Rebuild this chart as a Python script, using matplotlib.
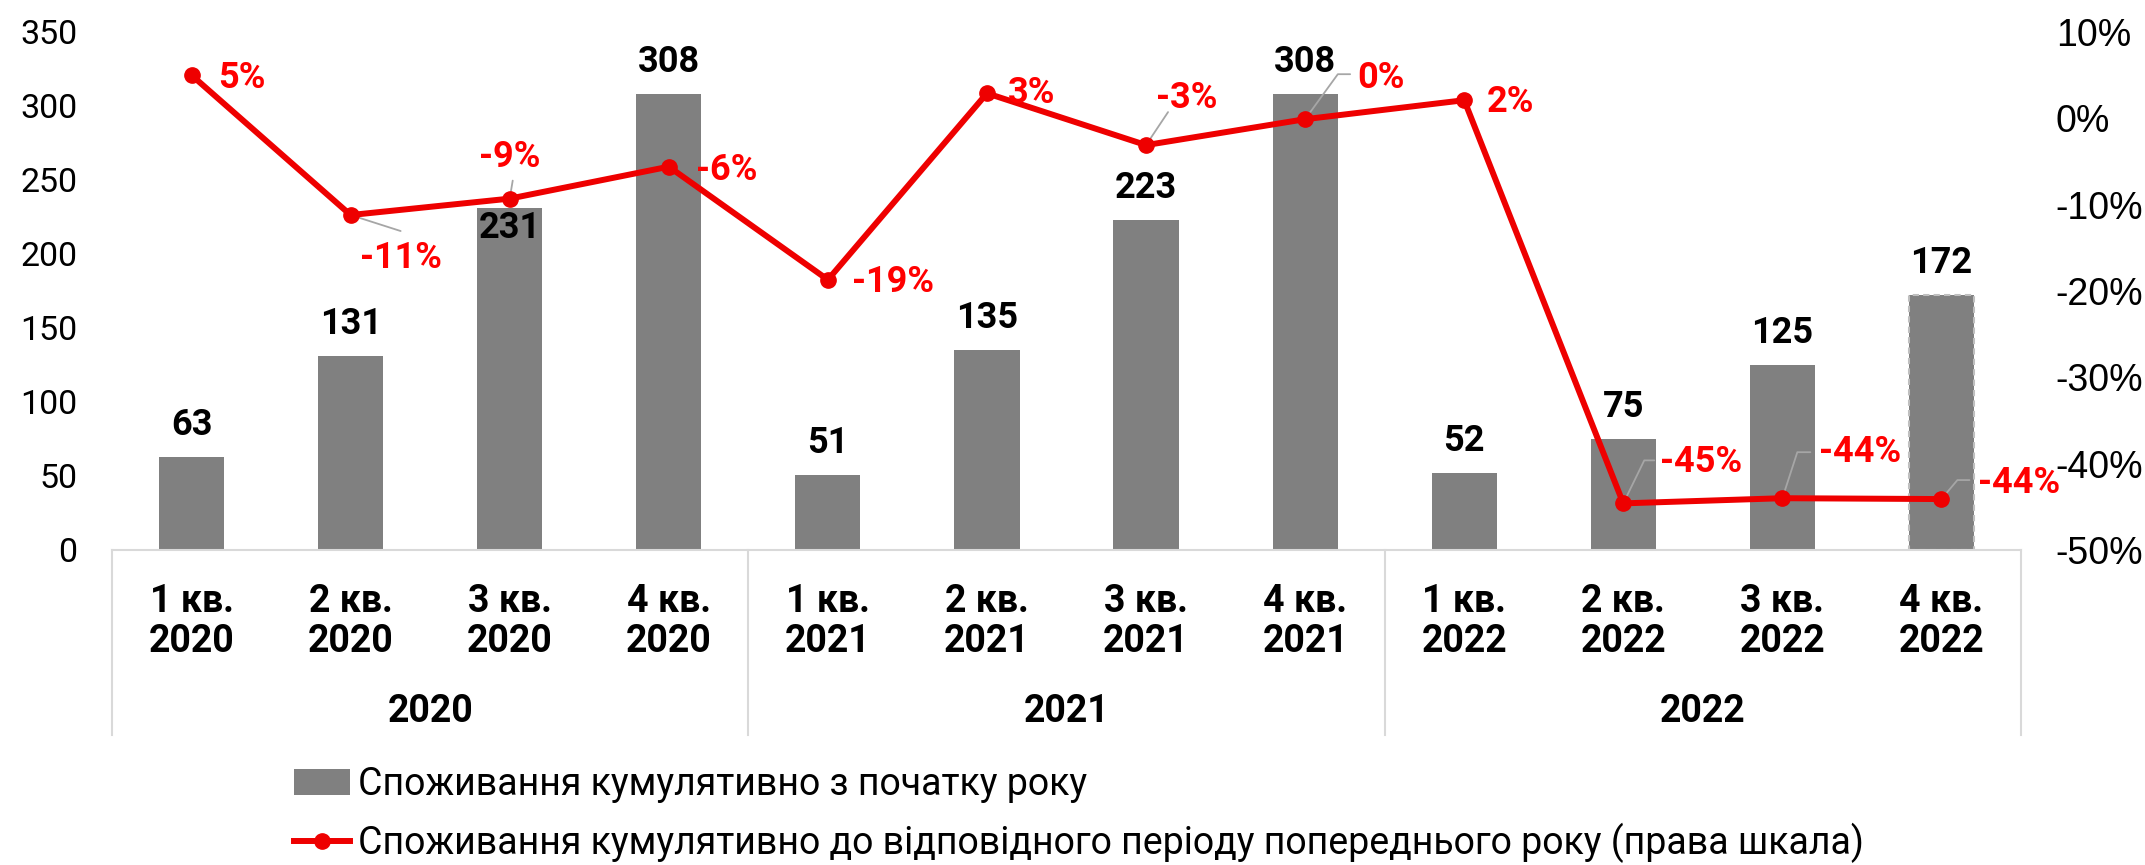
import matplotlib
matplotlib.use("Agg")
import matplotlib.pyplot as plt
from matplotlib.lines import Line2D
from matplotlib.patches import Patch
import matplotlib.transforms as mtransforms
import matplotlib.ticker as mticker

# ---------------- data ----------------
quarters = ["1 кв.", "2 кв.", "3 кв.", "4 кв."] * 3
years_q = ["2020"] * 4 + ["2021"] * 4 + ["2022"] * 4
years = ["2020", "2021", "2022"]
consumption = [63, 131, 231, 308, 51, 135, 223, 308, 52, 75, 125, 172]
change_pct = [5, -11, -9, -6, -19, 3, -3, 0, 2, -45, -44, -44]
change_plot = [5.0, -11.2, -9.3, -5.6, -18.7, 2.9, -3.1, -0.1, 2.1, -44.6, -44.0, -44.1]
legend_bar = "Споживання кумулятивно з початку року"
legend_line = "Споживання кумулятивно до відповідного періоду попереднього року (права шкала)"

# ---------------- style ----------------
BAR = "#808080"
RED = "#EE0000"
LBL_RED = "#FF0000"
GRID = "#D9D9D9"
LEAD = "#A6A6A6"
FONT = "Roboto"
LBL_FS = 26
TICK_FS = 24.5
CAT_FS = 27

W, H = 2145, 865
fig = plt.figure(figsize=(W / 100, H / 100), dpi=100)
ax_l, ax_r, ax_b, ax_t = 112, 2021, 550, 32
ax = fig.add_axes([ax_l / W, 1 - ax_b / H, (ax_r - ax_l) / W, (ax_b - ax_t) / H])
ax2 = ax.twinx()

x = list(range(len(consumption)))
bars = ax.bar(x, consumption, width=0.41, color=BAR, zorder=2)
bars[-1].set_edgecolor("#BFBFBF")
bars[-1].set_linestyle((0, (3, 2)))
bars[-1].set_linewidth(1.5)

ax.set_xlim(-0.5, len(x) - 0.5)
ax.set_ylim(0, 350)
ax.set_yticks(range(0, 351, 50))
ax.tick_params(axis="y", length=0, pad=25, labelsize=TICK_FS)
for t in ax.get_yticklabels():
    t.set_fontfamily(FONT)
ax.set_xticks([])
for s in ["left", "right", "top"]:
    ax.spines[s].set_visible(False)
    ax2.spines[s].set_visible(False)
ax.spines["bottom"].set_color(GRID)
ax.spines["bottom"].set_linewidth(1.5)
ax2.spines["bottom"].set_visible(False)

ax2.set_ylim(-50, 10)
ax2.set_yticks(range(-50, 11, 10))
ax2.yaxis.set_major_formatter(mticker.FuncFormatter(lambda v, p: f"{int(round(v))}%"))
ax2.tick_params(axis="y", length=0, pad=25, labelsize=27)
for t in ax2.get_yticklabels():
    t.set_fontfamily("Liberation Sans")

ax2.plot(x, change_plot, color=RED, lw=4.3, marker="o", ms=11, zorder=5,
         solid_joinstyle="miter")

# bar labels
bar_off = [32, 32, -20, 32, 32, 32, 32, 32, 32, 32, 32, 32]
for xi, v, off in zip(x, consumption, bar_off):
    ax.annotate(str(v), (xi, v), xytext=(0, off), textcoords="offset pixels",
                ha="center", va="center", fontsize=LBL_FS, fontweight="bold",
                family=FONT, color="black", zorder=6)

# line labels: text offset, leader spec (None / straight offset / (offset, angle))
txt_off = [(50, -3), (50, -43), (0, 42), (58, -3), (65, -2), (45, 0), (41, 47),
           (76, 41), (46, -2), (78, 41), (78, 46), (78, 16)]
leaders = [None, ("s", (50, -16)), ("s", (3, 18)), None, None, None, ("s", (22, 33)),
           ("a", (45, 45), 54), None, ("a", (31, 43), 64), ("a", (28, 46), 72),
           ("a", (28, 19), 50)]
for xi, yv, v, off, ld in zip(x, change_plot, change_pct, txt_off, leaders):
    if ld is not None:
        if ld[0] == "s":
            cs = "arc3"
        else:
            cs = f"angle,angleA=0,angleB={ld[2]},rad=0"
        ax2.annotate("", xy=(xi, yv), xytext=ld[1], textcoords="offset pixels",
                     arrowprops=dict(arrowstyle="-", color=LEAD, lw=1.3,
                                     shrinkA=0, shrinkB=0, connectionstyle=cs),
                     zorder=4)
    ax2.annotate(f"{v}%", (xi, yv), xytext=off, textcoords="offset pixels",
                 ha="center", va="center", fontsize=LBL_FS, fontweight="bold",
                 family=FONT, color=LBL_RED, zorder=7)

# category axis (multi-level)
trans = mtransforms.blended_transform_factory(ax.transData, ax.transAxes)
h_ax = ax_b - ax_t
def yfrac(py):
    return (ax_b - py) / h_ax
for xi, q, yr in zip(x, quarters, years_q):
    ax.text(xi, yfrac(602), q, transform=trans, ha="center", va="center",
            fontsize=CAT_FS, fontweight="bold", family=FONT)
    ax.text(xi, yfrac(641), yr, transform=trans, ha="center", va="center",
            fontsize=CAT_FS, fontweight="bold", family=FONT)
for gi, yr in enumerate(years):
    ax.text(gi * 4 + 1.5, yfrac(711), yr, transform=trans, ha="center", va="center",
            fontsize=CAT_FS, fontweight="bold", family=FONT)
for b in range(len(years) + 1):
    ax.plot([b * 4 - 0.5, b * 4 - 0.5], [0, yfrac(735)], transform=trans, color=GRID,
            lw=1.5, clip_on=False)

# legend
handles = [Patch(facecolor=BAR, edgecolor="none"),
           Line2D([], [], color=RED, lw=4.3, marker="o", ms=11)]
leg = fig.legend(handles, [legend_bar, legend_line], loc="upper left",
                 bbox_to_anchor=(294 / W, 1 - 766 / H), frameon=False,
                 prop={"family": FONT, "size": 27}, labelspacing=0.52,
                 handlelength=1.5, handletextpad=0.2, borderaxespad=0,
                 borderpad=0)

fig.savefig("out.png", dpi=100)
